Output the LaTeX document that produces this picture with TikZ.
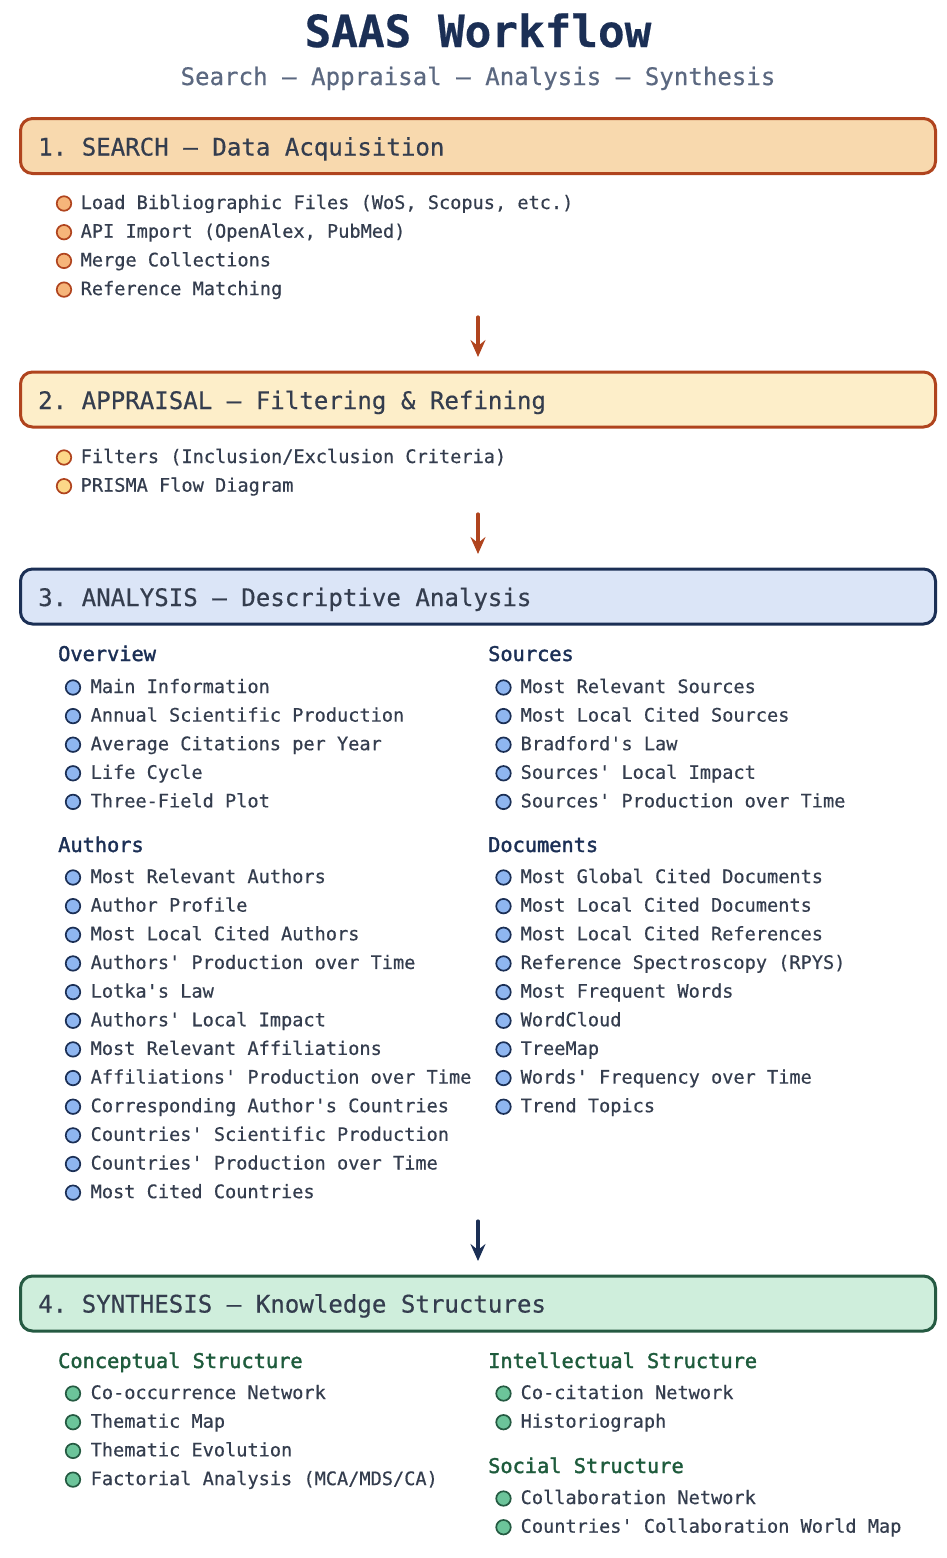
\documentclass[tikz,border=0pt]{standalone}
\usepackage{fontspec}
\setmonofont[FakeBold=0.5]{DejaVu Sans Mono}
\newfontfamily\semibfont[FakeBold=1.8]{DejaVu Sans Mono}
\usetikzlibrary{arrows.meta}
\definecolor{navy}{HTML}{1B2F55}
\definecolor{subgray}{HTML}{5B6880}
\definecolor{txt}{HTML}{343D4E}
\definecolor{brownb}{HTML}{B0441E}
\definecolor{fillA}{HTML}{F8D9AE}
\definecolor{bulA}{HTML}{F6B57A}
\definecolor{fillB}{HTML}{FDEEC9}
\definecolor{bulB}{HTML}{FCD888}
\definecolor{fillC}{HTML}{DBE5F7}
\definecolor{bulC}{HTML}{8FB6F0}
\definecolor{greenb}{HTML}{255A42}
\definecolor{fillD}{HTML}{CFEEDC}
\definecolor{bulD}{HTML}{6CC49A}
\definecolor{greenh}{HTML}{1E5B3C}
\begin{document}
\begin{tikzpicture}[x=1pt,y=-1pt,
  stagebox/.style={rectangle, line width=3pt, rounded corners=12pt, minimum width=915pt, minimum height=55pt, inner sep=0pt, outer sep=0pt},
  headtxt/.style={anchor=base west, inner sep=0pt, text=txt, font=\ttfamily\fontsize{24.1}{28}\selectfont},
  subhead/.style={anchor=base west, inner sep=0pt, font=\semibfont\fontsize{20.3}{24}\selectfont},
  itm/.style={anchor=base west, inner sep=0pt, text=txt, font=\ttfamily\fontsize{18.6}{22}\selectfont},
  bul/.style={circle, minimum size=14.5pt, inner sep=0pt, line width=1.7pt},
  flow/.style={line width=3.2pt, line cap=round, -{Stealth[length=17pt,width=15pt,inset=6pt]}}
]
\useasboundingbox (0,0) rectangle (946,1558);
% title
\node[anchor=base, inner sep=0pt, text=navy, font=\ttfamily\bfseries\fontsize{44.3}{50}\selectfont] (title) at (478,47) {SAAS Workflow};
\node[anchor=base, inner sep=0pt, text=subgray, font=\ttfamily\fontsize{24.1}{28}\selectfont] (subtitle) at (478,85) {Search — Appraisal — Analysis — Synthesis};

% stage 1
\node[stagebox, draw=brownb, fill=fillA] (s1) at (478,146) {};
\node[headtxt] (h1) at (38,155.5) {1. SEARCH — Data Acquisition};
\foreach \t [count=\i from 0] in {{Load Bibliographic Files (WoS, Scopus, etc.)},{API Import (OpenAlex, PubMed)},{Merge Collections},{Reference Matching}}{
  \pgfmathsetmacro\yy{209+28.7*\i}
  \node[bul, draw=brownb, fill=bulA] (ab\i) at (64,\yy-5.5) {};
  \node[itm] (a\i) at (80.5,\yy) {\t};
}
\coordinate (f1s) at (478,317);
\coordinate (f1e) at (478,357);
\draw[flow, brownb] (f1s) -- (f1e);

% stage 2
\node[stagebox, draw=brownb, fill=fillB] (s2) at (478,399.5) {};
\node[headtxt] (h2) at (38,409) {2. APPRAISAL — Filtering \& Refining};
\foreach \t [count=\i from 0] in {{Filters (Inclusion/Exclusion Criteria)},{PRISMA Flow Diagram}}{
  \pgfmathsetmacro\yy{463+28.7*\i}
  \node[bul, draw=brownb, fill=bulB] (bb\i) at (64,\yy-5.5) {};
  \node[itm] (b\i) at (80.5,\yy) {\t};
}
\coordinate (f2s) at (478,514);
\coordinate (f2e) at (478,554);
\draw[flow, brownb] (f2s) -- (f2e);

% stage 3
\node[stagebox, draw=navy, fill=fillC] (s3) at (478,596.5) {};
\node[headtxt] (h3) at (38,606) {3. ANALYSIS — Descriptive Analysis};
\node[subhead, text=navy] (ovh) at (58,661) {Overview};
\foreach \t [count=\i from 0] in {{Main Information},{Annual Scientific Production},{Average Citations per Year},{Life Cycle},{Three-Field Plot}}{
  \pgfmathsetmacro\yy{693+28.6*\i}
  \node[bul, draw=navy, fill=bulC] (ovb\i) at (73,\yy-5.5) {};
  \node[itm] (ov\i) at (90.5,\yy) {\t};
}
\node[subhead, text=navy] (soh) at (488,661) {Sources};
\foreach \t [count=\i from 0] in {{Most Relevant Sources},{Most Local Cited Sources},{Bradford's Law},{Sources' Local Impact},{Sources' Production over Time}}{
  \pgfmathsetmacro\yy{693+28.6*\i}
  \node[bul, draw=navy, fill=bulC] (sob\i) at (503.5,\yy-5.5) {};
  \node[itm] (so\i) at (520.5,\yy) {\t};
}
\node[subhead, text=navy] (auh) at (58,852) {Authors};
\foreach \t [count=\i from 0] in {{Most Relevant Authors},{Author Profile},{Most Local Cited Authors},{Authors' Production over Time},{Lotka's Law},{Authors' Local Impact},{Most Relevant Affiliations},{Affiliations' Production over Time},{Corresponding Author's Countries},{Countries' Scientific Production},{Countries' Production over Time},{Most Cited Countries}}{
  \pgfmathsetmacro\yy{883+28.65*\i}
  \node[bul, draw=navy, fill=bulC] (aub\i) at (73,\yy-5.5) {};
  \node[itm] (au\i) at (90.5,\yy) {\t};
}
\node[subhead, text=navy] (doh) at (488,852) {Documents};
\foreach \t [count=\i from 0] in {{Most Global Cited Documents},{Most Local Cited Documents},{Most Local Cited References},{Reference Spectroscopy (RPYS)},{Most Frequent Words},{WordCloud},{TreeMap},{Words' Frequency over Time},{Trend Topics}}{
  \pgfmathsetmacro\yy{883+28.65*\i}
  \node[bul, draw=navy, fill=bulC] (dob\i) at (503.5,\yy-5.5) {};
  \node[itm] (do\i) at (520.5,\yy) {\t};
}
\coordinate (f3s) at (478,1221);
\coordinate (f3e) at (478,1261);
\draw[flow, navy] (f3s) -- (f3e);

% stage 4
\node[stagebox, draw=greenb, fill=fillD] (s4) at (478,1303.5) {};
\node[headtxt] (h4) at (38,1312.5) {4. SYNTHESIS — Knowledge Structures};
\node[subhead, text=greenh] (csh) at (58,1368) {Conceptual Structure};
\foreach \t [count=\i from 0] in {{Co-occurrence Network},{Thematic Map},{Thematic Evolution},{Factorial Analysis (MCA/MDS/CA)}}{
  \pgfmathsetmacro\yy{1399+28.7*\i}
  \node[bul, draw=greenb, fill=bulD] (csb\i) at (73,\yy-5.5) {};
  \node[itm] (cs\i) at (90.5,\yy) {\t};
}
\node[subhead, text=greenh] (ish) at (488,1368) {Intellectual Structure};
\foreach \t [count=\i from 0] in {{Co-citation Network},{Historiograph}}{
  \pgfmathsetmacro\yy{1399+28.7*\i}
  \node[bul, draw=greenb, fill=bulD] (isb\i) at (503.5,\yy-5.5) {};
  \node[itm] (is\i) at (520.5,\yy) {\t};
}
\node[subhead, text=greenh] (ssh) at (488,1473) {Social Structure};
\foreach \t [count=\i from 0] in {{Collaboration Network},{Countries' Collaboration World Map}}{
  \pgfmathsetmacro\yy{1504+28.7*\i}
  \node[bul, draw=greenb, fill=bulD] (ssb\i) at (503.5,\yy-5.5) {};
  \node[itm] (ss\i) at (520.5,\yy) {\t};
}
\end{tikzpicture}
\end{document}
